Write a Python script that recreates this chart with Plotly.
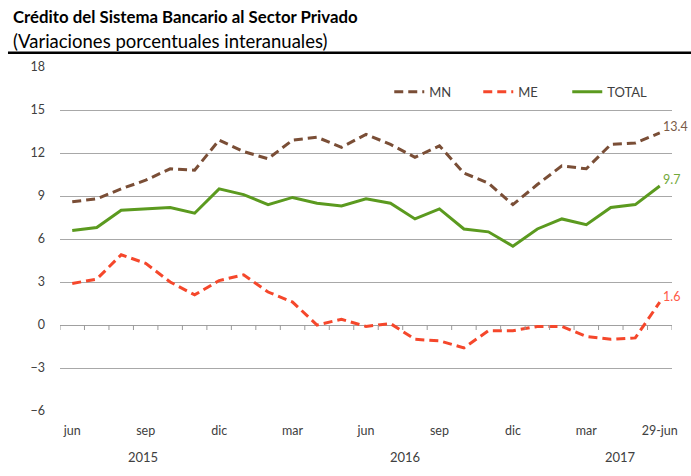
import plotly.graph_objects as go

# ---- data ----
periods = ["jun-15", "jul-15", "ago-15", "sep-15", "oct-15", "nov-15", "dic-15",
           "ene-16", "feb-16", "mar-16", "abr-16", "may-16", "jun-16", "jul-16",
           "ago-16", "sep-16", "oct-16", "nov-16", "dic-16", "ene-17", "feb-17",
           "mar-17", "abr-17", "may-17", "29-jun-17"]
mn = [8.6, 8.8, 9.5, 10.1, 10.9, 10.8, 12.9, 12.1, 11.6, 12.9, 13.1, 12.4, 13.3,
      12.6, 11.7, 12.5, 10.6, 9.9, 8.4, 9.8, 11.1, 10.9, 12.6, 12.7, 13.4]
me = [2.9, 3.2, 4.9, 4.3, 3.0, 2.1, 3.1, 3.5, 2.3, 1.6, 0.0, 0.4, -0.1,
      0.1, -1.0, -1.1, -1.6, -0.4, -0.4, -0.1, -0.1, -0.8, -1.0, -0.9, 1.6]
total = [6.6, 6.8, 8.0, 8.1, 8.2, 7.8, 9.5, 9.1, 8.4, 8.9, 8.5, 8.3, 8.8,
         8.5, 7.4, 8.1, 6.7, 6.5, 5.5, 6.7, 7.4, 7.0, 8.2, 8.4, 9.7]
tick_periods = ["jun-15", "sep-15", "dic-15", "mar-16", "jun-16", "sep-16",
                "dic-16", "mar-17", "29-jun-17"]
tick_text = ["jun", "sep", "dic", "mar", "jun", "sep", "dic", "mar", "29-jun"]
years = ["2015", "2016", "2017"]
year_pos = [2.9, 13.6, 22.4]
y_ticks = [-6, -3, 0, 3, 6, 9, 12, 15, 18]

C_MN = "#7a4e36"
C_ME = "#f5472b"
C_TOT = "#5b9a1f"
FONT = "Lato"

fig = go.Figure()
fig.add_trace(go.Scatter(x=periods, y=mn, name="MN", mode="lines",
                         line=dict(color=C_MN, width=3, dash="9px,5px")))
fig.add_trace(go.Scatter(x=periods, y=me, name="ME", mode="lines",
                         line=dict(color=C_ME, width=3, dash="9px,5px")))
fig.add_trace(go.Scatter(x=periods, y=total, name="TOTAL", mode="lines",
                         line=dict(color=C_TOT, width=3)))

# end labels
for vals, col in [(mn, "#7a5a48"), (total, "#72a83a"), (me, "#ff5a48")]:
    fig.add_annotation(x=periods[-1], y=vals[-1], text=f"{vals[-1]:.1f}",
                       showarrow=False, xanchor="left", yanchor="middle",
                       xshift=2, yshift=6, borderpad=0,
                       font=dict(size=12.5, color=col, family=FONT))

# year labels
for yr, pos in zip(years, year_pos):
    fig.add_annotation(x=pos, y=0, yref="paper", text=yr, showarrow=False,
                       xanchor="center", yanchor="middle", yshift=-46,
                       font=dict(size=13, color="#404040", family=FONT))

# tick marks on the zero line (between categories)
for k in range(len(periods) + 1):
    fig.add_shape(type="line", xref="x", yref="y", x0=k - 0.5, x1=k - 0.5,
                  ysizemode="pixel", yanchor=0, y0=0, y1=-5,
                  line=dict(color="#9a9a9a", width=1))

# title
fig.add_annotation(xref="paper", yref="paper", x=-0.0785, y=1.147,
                   text="<b>Crédito del Sistema Bancario al Sector Privado</b>",
                   showarrow=False, xanchor="left", yanchor="middle", borderpad=0,
                   font=dict(size=16.8, color="#000000", family=FONT))
fig.add_annotation(xref="paper", yref="paper", x=-0.0785, y=1.0765,
                   text="(Variaciones porcentuales interanuales)",
                   showarrow=False, xanchor="left", yanchor="middle", borderpad=0,
                   font=dict(size=18.5, color="#000000", family=FONT))
fig.add_shape(type="line", xref="paper", yref="paper", x0=-0.085, x1=1.035,
              y0=1.0416, y1=1.0416, line=dict(color="#000000", width=2.5))

fig.update_layout(
    width=691, height=476,
    margin=dict(l=60, r=19, t=67, b=65, autoexpand=False),
    paper_bgcolor="white", plot_bgcolor="white",
    font=dict(family=FONT, size=12, color="#404040"),
    showlegend=True,
    legend=dict(orientation="h", x=0.538, y=0.928, xanchor="left",
                yanchor="middle", font=dict(size=13, color="#404040"),
                bgcolor="rgba(0,0,0,0)", entrywidth=44),
    xaxis=dict(type="category", range=[-0.5, len(periods) - 0.5],
               tickmode="array", tickvals=tick_periods, ticktext=tick_text,
               showgrid=False, zeroline=False, showline=False, ticks="",
               automargin=False,
               ticklabelstandoff=10, tickfont=dict(size=12.5, color="#404040")),
    yaxis=dict(range=[-6, 18], tickmode="array", tickvals=y_ticks,
               showgrid=True, gridcolor="#a8a8a8", gridwidth=1.2,
               zeroline=True, zerolinecolor="#a0a0a0", zerolinewidth=1.2,
               showline=False, ticks="", ticklabelstandoff=14, automargin=False,
               tickfont=dict(size=12.5, color="#404040")),
)

fig.write_html("out.html", config={"displayModeBar": False},
               post_script="document.body.style.margin='0';"
                           "document.body.style.overflow='hidden';")
